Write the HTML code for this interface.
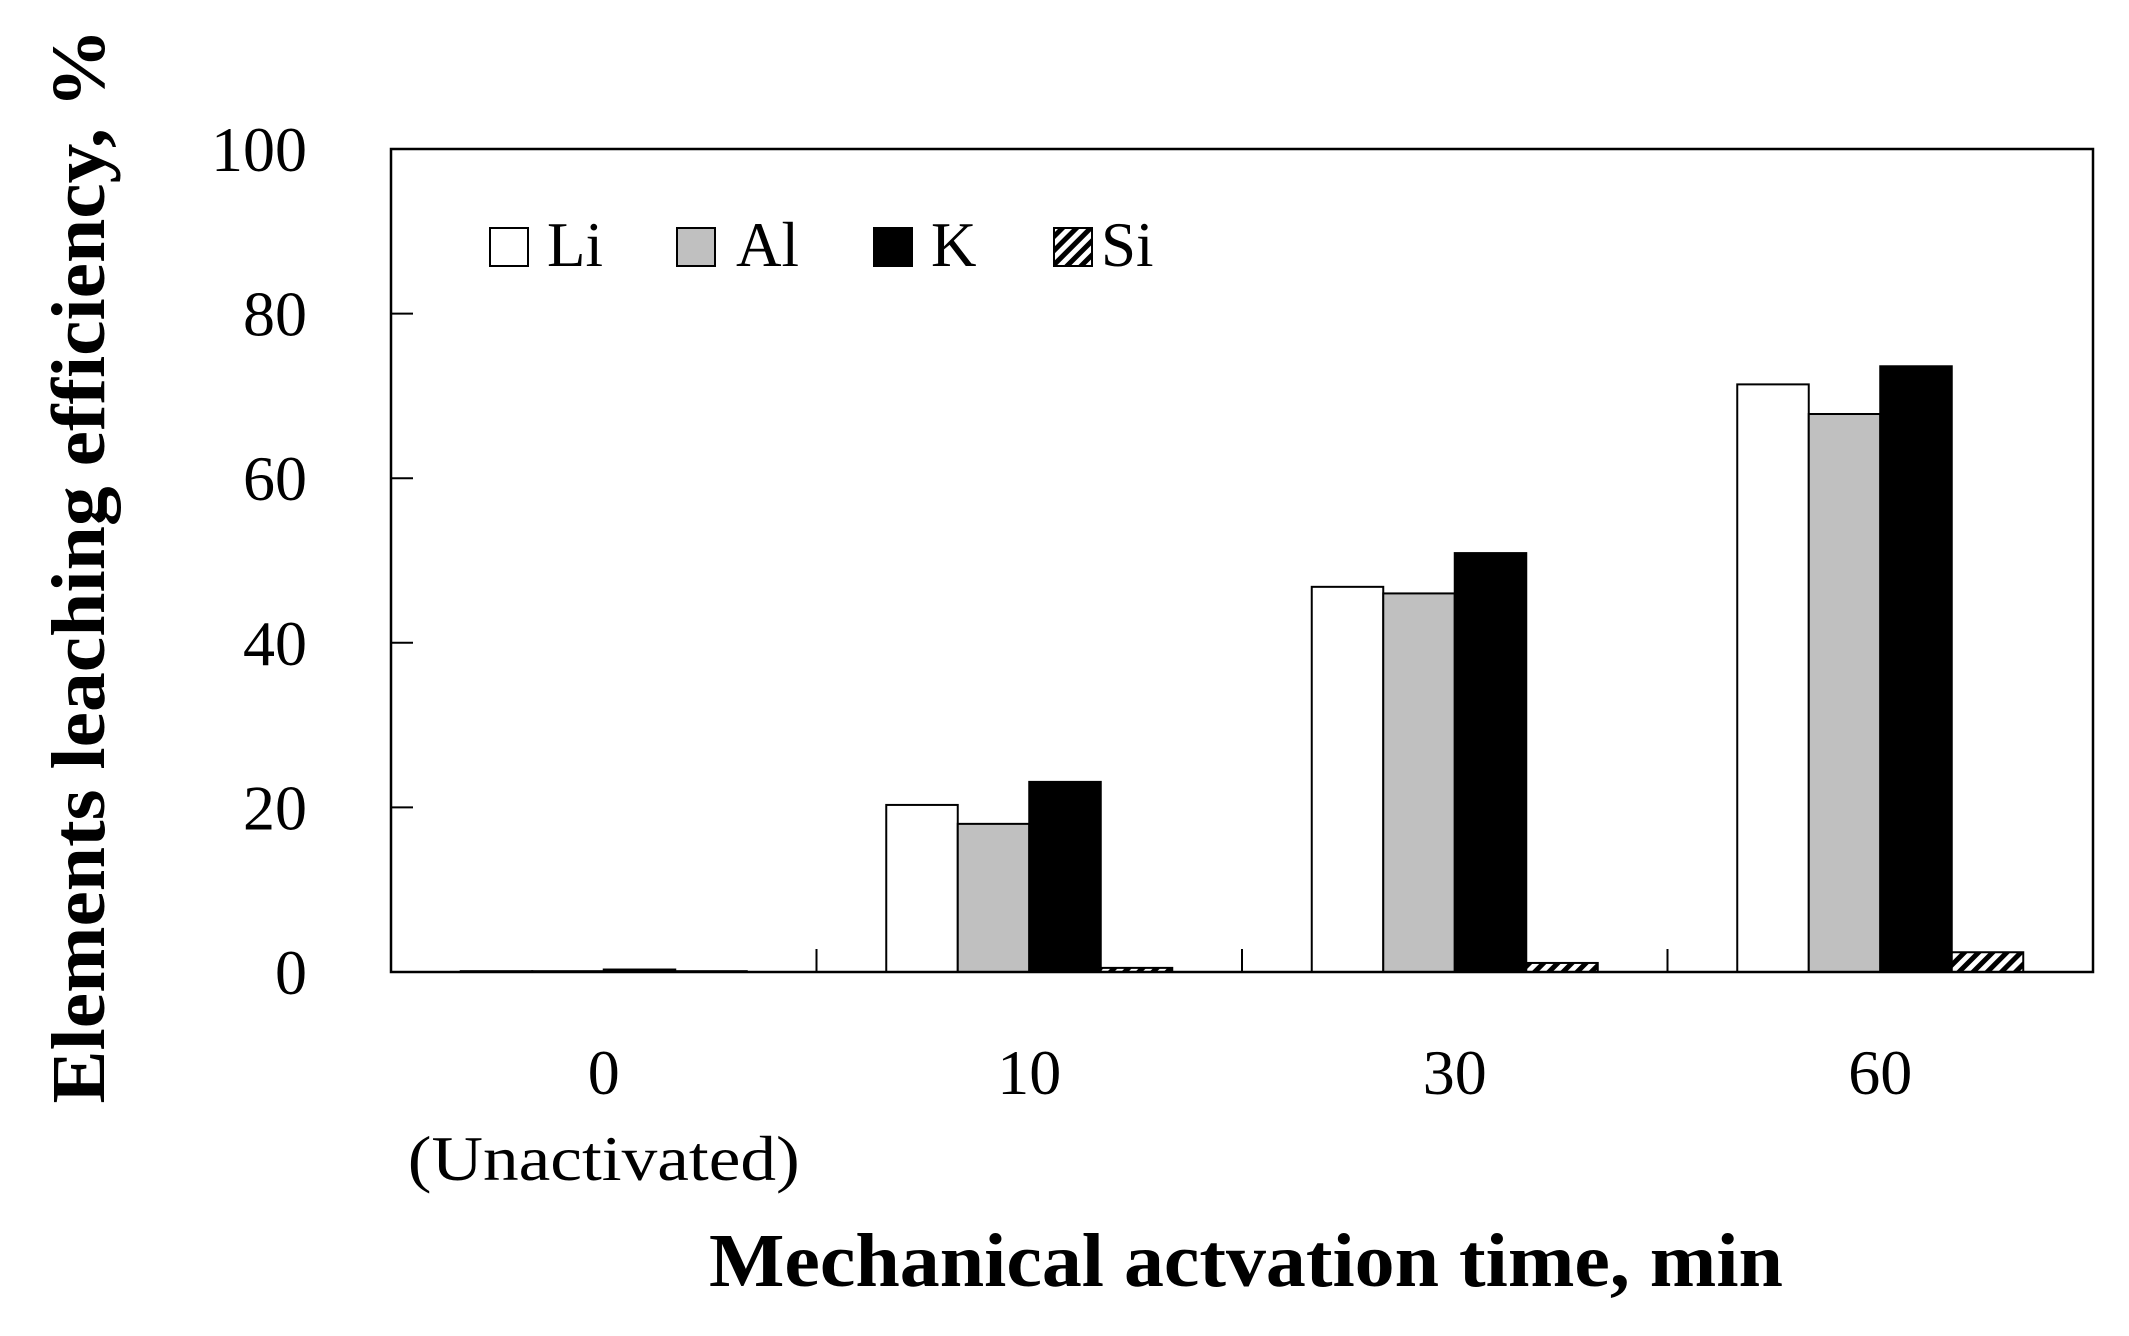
<!DOCTYPE html>
<html><head><meta charset="utf-8"><style>html,body{margin:0;padding:0;background:#fff}svg{display:block}</style></head>
<body>
<svg id="chart" width="2129" height="1336" viewBox="0 0 2129 1336" xmlns="http://www.w3.org/2000/svg" font-family="'Liberation Serif', serif">
<defs>
<pattern id="hatch" patternUnits="userSpaceOnUse" width="10" height="10" patternTransform="rotate(45)">
<rect width="10" height="10" fill="#fff"/><rect width="5" height="10" fill="#000"/>
</pattern>
</defs>
<g id="plot"></g>
<text transform="translate(104,566) rotate(-90)" text-anchor="middle" font-size="76" font-weight="bold" textLength="1075" lengthAdjust="spacingAndGlyphs">Elements leaching efficiency, %</text>
<text x="1246" y="1286" text-anchor="middle" font-size="76" font-weight="bold" textLength="1074" lengthAdjust="spacingAndGlyphs">Mechanical actvation time, min</text>
<g font-size="63">
<rect x="490" y="228" width="38" height="38" fill="#fff" stroke="#000" stroke-width="2"/>
<text x="547" y="266">Li</text>
<rect x="677" y="228" width="38" height="38" fill="#c0c0c0" stroke="#000" stroke-width="2"/>
<text x="736" y="266">Al</text>
<rect x="874" y="228" width="38" height="38" fill="#000" stroke="#000" stroke-width="2"/>
<text x="931" y="266">K</text>
<rect x="1054" y="228" width="38" height="38" fill="url(#hatch)" stroke="#000" stroke-width="2"/>
<text x="1101" y="266">Si</text>
</g>
</svg>
<script>
const categories = ["0", "10", "30", "60"];
const subLabels = ["(Unactivated)", "", "", ""];
const liValues = [0.1, 20.3, 46.8, 71.4];
const alValues = [0.1, 18.0, 46.0, 67.8];
const kValues = [0.3, 23.1, 50.9, 73.6];
const siValues = [0.1, 0.5, 1.1, 2.4];
const yTicks = [0, 20, 40, 60, 80, 100];

const NS = "http://www.w3.org/2000/svg";
const L = 391, R = 2093, T = 149, B = 972;
const yMax = 100;
const groupW = (R - L) / categories.length;
const barW = 71.5;
function y(v) { return B - (v / yMax) * (B - T); }
function xGroup(i) { return L + groupW * (i + 0.5); }
const plot = document.getElementById('plot');
function mk(tag, attrs) { const e = document.createElementNS(NS, tag); for (const k in attrs) e.setAttribute(k, attrs[k]); plot.appendChild(e); return e; }

const series = [
  { name: 'li', vals: liValues, fill: '#fff' },
  { name: 'al', vals: alValues, fill: '#c0c0c0' },
  { name: 'k', vals: kValues, fill: '#000' },
  { name: 'si', vals: siValues, fill: 'url(#hatch)' }
];
categories.forEach((c, i) => {
  const x0 = xGroup(i) - 2 * barW;
  series.forEach((s, j) => {
    const v = s.vals[i];
    const r = mk('rect', { x: x0 + j * barW, y: y(v), width: barW, height: Math.max(B - y(v), 0.5), fill: s.fill, stroke: '#000', 'stroke-width': 2 });
    
    
  });
  const t = mk('text', { x: xGroup(i), y: 1094, 'text-anchor': 'middle', 'font-size': 64 });
  t.textContent = c;
  
  
  if (subLabels[i]) {
    const s2 = mk('text', { x: xGroup(i), y: 1180, 'text-anchor': 'middle', 'font-size': 64, textLength: 392, lengthAdjust: 'spacingAndGlyphs' });
    s2.textContent = subLabels[i];
    
    
  }
  if (i > 0) {
    const tk = mk('line', { x1: L + groupW * i, x2: L + groupW * i, y1: B, y2: B - 23, stroke: '#000', 'stroke-width': 2 });
    
    
  }
});
yTicks.forEach(v => {
  const tk = mk('line', { x1: L, x2: L + 22, y1: y(v), y2: y(v), stroke: '#000', 'stroke-width': 2 });
  
  
  const t = mk('text', { x: 307, y: y(v) + 22, 'text-anchor': 'end', 'font-size': 64 });
  t.textContent = v;
  
  
});
const frame = mk('rect', { x: L, y: T, width: R - L, height: B - T, fill: 'none', stroke: '#000', 'stroke-width': 2.5 });


</script>
</body></html>
